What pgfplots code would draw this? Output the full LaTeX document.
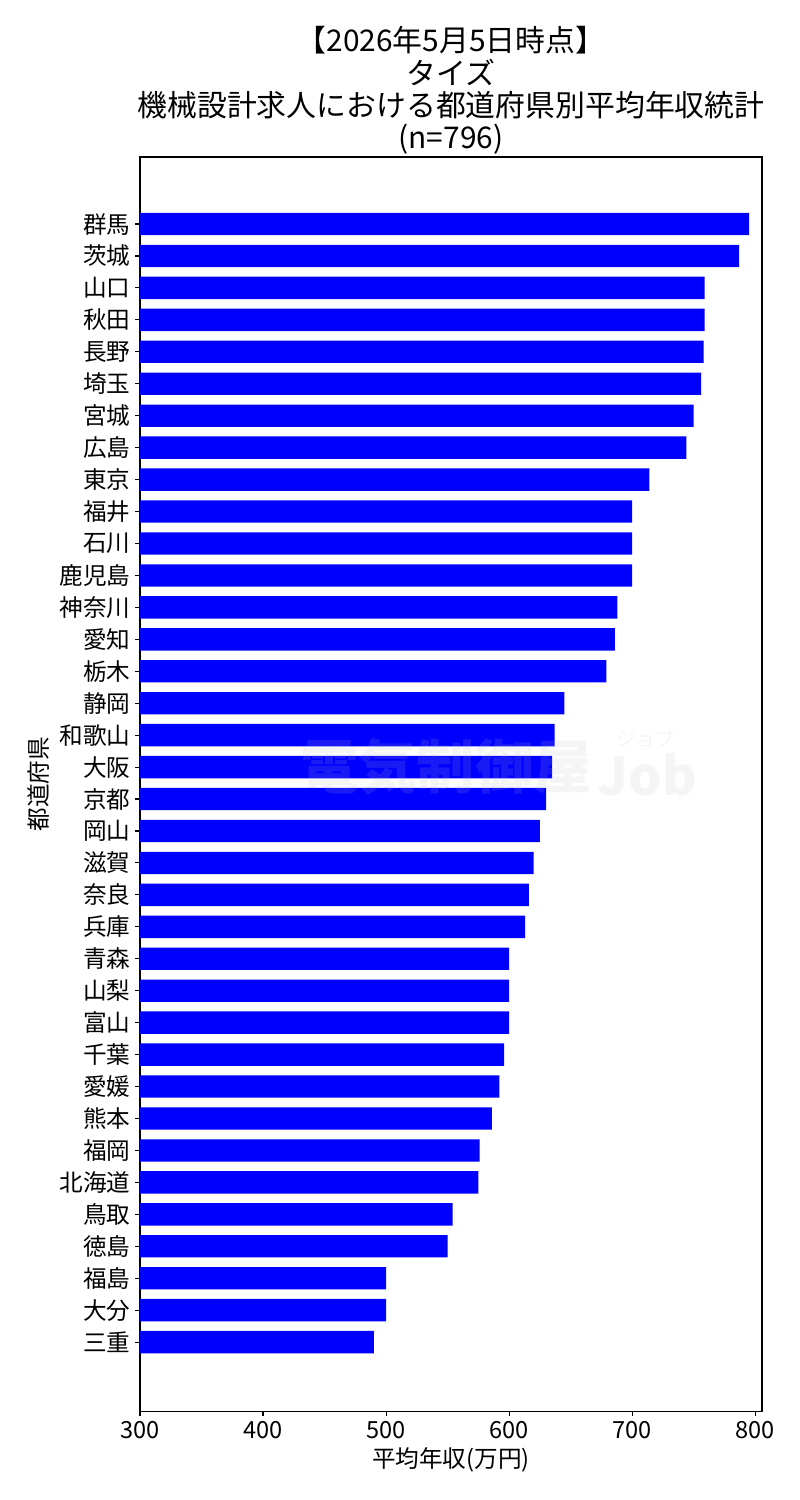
\documentclass[border=0pt]{standalone}
\usepackage{fontspec}
\setmainfont{Noto Sans CJK JP}
\usepackage{pgfplots}
\pgfplotsset{compat=1.18}
\begin{document}
\begin{tikzpicture}[x=1pt,y=1pt]
\useasboundingbox (0,0) rectangle (576,1080);
\begin{axis}[
 at={(100.8pt,64pt)}, anchor=south west,
 scale only axis, width=447.8pt, height=903pt,
 xbar, bar width=0.7,
 xmin=300, xmax=805.5, ymin=-2.1, ymax=37.16, y dir=reverse,
 xtick={300,400,...,800},
 ytick={0,...,35},
 yticklabels={群馬,茨城,山口,秋田,長野,埼玉,宮城,広島,東京,福井,石川,鹿児島,神奈川,愛知,栃木,静岡,和歌山,大阪,京都,岡山,滋賀,奈良,兵庫,青森,山梨,富山,千葉,愛媛,熊本,福岡,北海道,鳥取,徳島,福島,大分,三重},
 tick align=outside, tick pos=left, major tick length=3.5pt,
 axis line style={line width=0.8pt}, tick style={line width=0.8pt, black},
 ticklabel style={font=\fontsize{17}{17}\selectfont},
 /pgf/number format/assume math mode=true,
 xlabel={平均年収(万円)}, ylabel={都道府県},
 label style={font=\fontsize{17}{17}\selectfont},
 title={【2026年5月5日時点】\\タイズ\\機械設計求人における都道府県別平均年収統計\\(n=796)},
 title style={align=center, font=\fontsize{21.5}{23.3}\selectfont, inner sep=0pt, yshift=-4.5pt},
]
\addplot[fill=blue, draw=none] coordinates {
(795,0) (787,1) (759,2) (759,3) (758,4) (756,5) (750,6) (744,7) (714,8)
(700,9) (700,10) (700,11) (688,12) (686,13) (679,14) (645,15) (637,16) (635,17)
(630,18) (625,19) (620,20) (616,21) (613,22) (600,23) (600,24) (600,25) (596,26)
(592,27) (586,28) (576,29) (575,30) (554,31) (550,32) (500,33) (500,34) (490,35)};
\end{axis}
\node[anchor=west, text=black!27, opacity=0.14, font=\fontsize{42}{42}\selectfont\bfseries, inner sep=0pt] at (216,528) {電気制御屋};
\node[anchor=west, text=black!27, opacity=0.14, font=\fontsize{38}{38}\selectfont\bfseries, inner sep=0pt] at (430,522) {Job};
\node[anchor=west, text=black!27, opacity=0.14, font=\fontsize{14}{14}\selectfont, inner sep=0pt] at (444,548) {ジョブ};
\end{tikzpicture}
\end{document}
